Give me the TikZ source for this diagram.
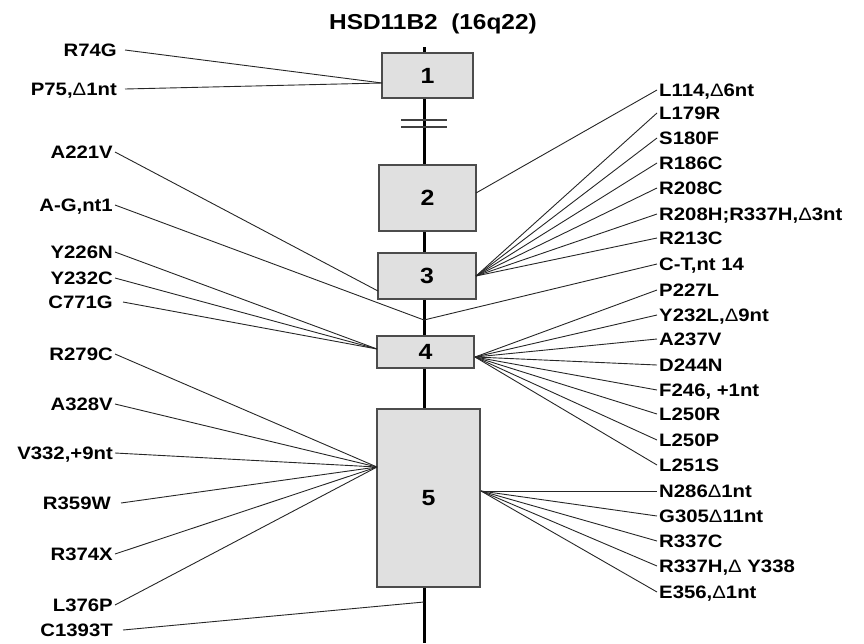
\documentclass[tikz,border=0pt]{standalone}
\usepackage{fontspec}
\setmainfont{Liberation Sans}[FakeStretch=1.13]
\newcommand{\dlt}{{\mdseries Δ}}
\begin{document}
\begin{tikzpicture}[x=1pt,y=-1pt,
  lab/.style={font=\fontsize{18}{20}\selectfont\bfseries, text height=12.9pt, text depth=0pt, inner sep=2pt},
  ll/.style={lab, anchor=east},
  rl/.style={lab, anchor=west},
  exon/.style={draw=black!70, line width=1.4pt, fill=black!12, font=\fontsize{22}{24}\selectfont\bfseries, inner sep=0pt},
  conn/.style={line width=0.9pt, black!85},
  brk/.style={line width=1.1pt, black!75}]
\path[use as bounding box] (0,0) rectangle (864,643);

% title
\node[font=\fontsize{21.6}{24}\selectfont\bfseries, text height=15.3pt, text depth=0pt, inner sep=0pt] (title) at (433,22) {HSD11B2\ \ (16q22)};

% gene axis
\coordinate (top) at (424,47);
\coordinate (bot) at (424,643);
\draw[line width=3pt] (top) -- (bot);

% break marks
\coordinate (k1a) at (401,120); \coordinate (k1b) at (447,120);
\coordinate (k2a) at (401,127); \coordinate (k2b) at (447,127);
\draw[brk] (k1a) -- (k1b);
\draw[brk] (k2a) -- (k2b);

% exons
\node[exon, minimum width=91pt, minimum height=45pt] (e1) at (427.5,75.5) {1};
\node[exon, minimum width=97pt, minimum height=66pt] (e2) at (427.5,198) {2};
\node[exon, minimum width=98pt, minimum height=46pt] (e3) at (427,276) {3};
\node[exon, minimum width=97pt, minimum height=32pt] (e4) at (425.5,352) {4};
\node[exon, minimum width=103pt, minimum height=178pt] (e5) at (428.5,498) {5};

% fan points
\coordinate (b1w) at (382,83);
\coordinate (b3w) at (378,291);
\coordinate (b4w) at (377,349);
\coordinate (b5w) at (377,467);
\coordinate (cAG) at (424,320);
\coordinate (cCT) at (424,602);
\coordinate (b2e) at (476,193);
\coordinate (b3e) at (476,276);
\coordinate (b4e) at (475,357);
\coordinate (b5e) at (481,491);

% left labels
\node[ll] (l1) at (119,50) {R74G};
\node[ll] (l2) at (119,89) {P75,\dlt1nt};
\node[ll] (l3) at (115,152) {A221V};
\node[ll] (l4) at (115,205) {A-G,nt1};
\node[ll] (l5) at (115,252) {Y226N};
\node[ll] (l6) at (115,278) {Y232C};
\node[ll] (l7) at (115,302) {C771G};
\node[ll] (l8) at (115,354) {R279C};
\node[ll] (l9) at (115,404) {A328V};
\node[ll] (l10) at (115,453) {V332,+9nt};
\node[ll] (l11) at (113,503) {R359W};
\node[ll] (l12) at (115,554) {R374X};
\node[ll] (l13) at (115,605) {L376P};
\node[ll] (l14) at (115,630) {C1393T};

% right labels
\node[rl] (r1) at (657,90) {L114,\dlt6nt};
\node[rl] (r2) at (657,113) {L179R};
\node[rl] (r3) at (657,138) {S180F};
\node[rl] (r4) at (657,163) {R186C};
\node[rl] (r5) at (657,188) {R208C};
\node[rl] (r6) at (657,214) {R208H;R337H,\dlt3nt};
\node[rl] (r7) at (657,238) {R213C};
\node[rl] (r8) at (657,264) {C-T,nt 14};
\node[rl] (r9) at (657,290) {P227L};
\node[rl] (r10) at (657,315) {Y232L,\dlt9nt};
\node[rl] (r11) at (657,339) {A237V};
\node[rl] (r12) at (657,365) {D244N};
\node[rl] (r13) at (657,390) {F246, +1nt};
\node[rl] (r14) at (657,414) {L250R};
\node[rl] (r15) at (657,440) {L250P};
\node[rl] (r16) at (657,465) {L251S};
\node[rl] (r17) at (657,491) {N286\dlt1nt};
\node[rl] (r18) at (657,516) {G305\dlt11nt};
\node[rl] (r19) at (657,541) {R337C};
\node[rl] (r20) at (657,566) {R337H,\dlt\ Y338};
\node[rl] (r21) at (657,592) {E356,\dlt1nt};

% left connectors
\foreach \n in {l1,l2} \draw[conn] ([xshift=6pt]\n.east) -- (b1w);
\draw[conn] (l3.east) -- (b3w);
\draw[conn] (l4.east) -- (cAG);
\foreach \n in {l5,l6} \draw[conn] (\n.east) -- (b4w);
\draw[conn] ([xshift=8pt]l7.east) -- (b4w);
\foreach \n in {l8,l9,l10,l12,l13} \draw[conn] (\n.east) -- (b5w);
\draw[conn] ([xshift=8pt]l11.east) -- (b5w);
\draw[conn] ([xshift=8pt]l14.east) -- (cCT);

% right connectors
\draw[conn] (r1.west) -- (b2e);
\foreach \n in {r2,r3,r4,r5,r6,r7} \draw[conn] (\n.west) -- (b3e);
\draw[conn] (r8.west) -- (cAG);
\foreach \n in {r9,r10,r11,r12,r13,r14,r15,r16} \draw[conn] (\n.west) -- (b4e);
\foreach \n in {r17,r18,r19,r20,r21} \draw[conn] (\n.west) -- (b5e);
\end{tikzpicture}
\end{document}
